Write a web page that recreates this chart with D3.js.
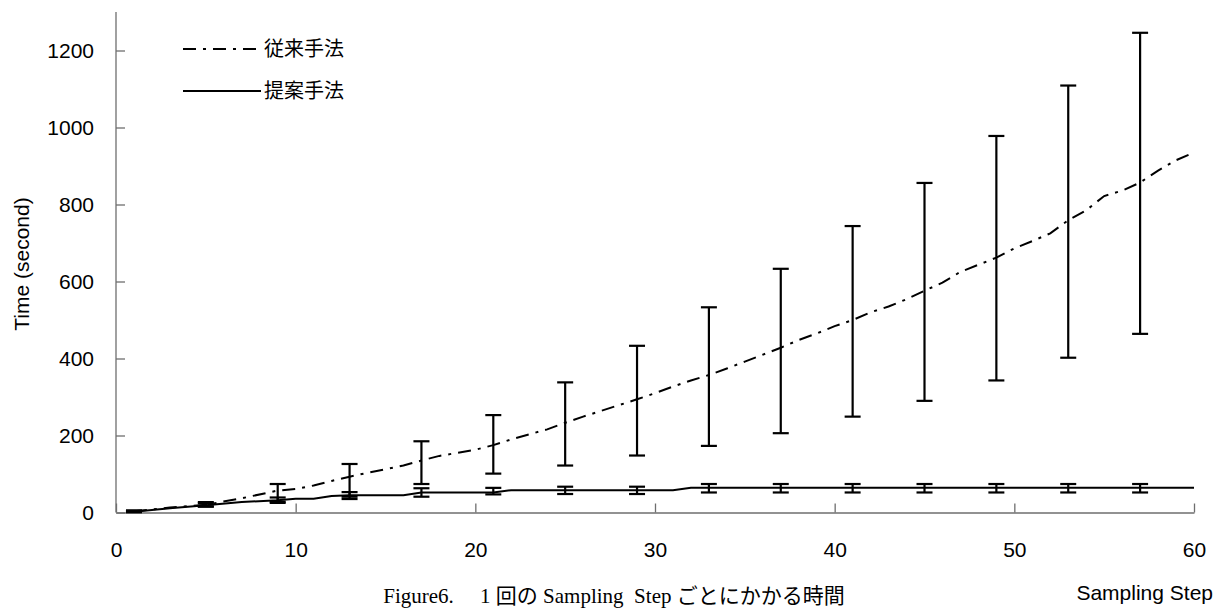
<!DOCTYPE html>
<html><head><meta charset="utf-8">
<script src="https://cdn.jsdelivr.net/npm/d3@7"></script>
<style>
html,body{margin:0;padding:0;background:#fff;}
svg{display:block;}
</style></head>
<body>
<script>
// ---- data ----
const seriesNames = ["従来手法", "提案手法"];
const convSteps  = [1, 3, 5, 7, 9, 10, 11, 12, 13, 14, 16, 17, 18, 19, 20, 21, 22, 23, 24, 25, 26, 27, 28, 29, 30, 31, 32, 33, 34, 35, 37, 38, 39, 40, 41, 42, 43, 44, 45, 46, 47, 49, 50, 51, 52, 53, 54, 55, 56, 57, 58, 59, 60];
const convValues = [3, 13, 20, 37, 57, 61, 70, 82, 93, 103, 122, 135, 147, 155, 163, 175, 190, 203, 216, 233, 249, 264, 279, 294, 310, 327, 343, 357, 374, 392, 428, 448, 465, 484, 500, 520, 535, 554, 576, 597, 625, 662, 686, 705, 725, 759, 785, 822, 836, 857, 888, 915, 935];
const propSteps  = [1, 3, 5, 7, 9, 10, 11, 12, 13, 16, 17, 21, 22, 31, 32, 60];
const propValues = [2, 11, 19, 27, 32, 36, 36, 43, 45, 45, 52, 52, 58, 58, 64, 64];
const errSteps   = [1, 5, 9, 13, 17, 21, 25, 29, 33, 37, 41, 45, 49, 53, 57];
const convLow    = [1, 16, 28, 41, 74, 101, 122, 148, 173, 206, 249, 290, 343, 402, 464];
const convHigh   = [5, 27, 74, 126, 185, 253, 338, 433, 533, 633, 744, 856, 978, 1109, 1246];
const propLow    = [1, 15, 25, 35, 41, 47, 48, 48, 52, 52, 52, 52, 52, 52, 52];
const propHigh   = [5, 24, 39, 53, 63, 64, 67, 67, 74, 74, 74, 74, 74, 74, 74];
const xTicks = [0, 10, 20, 30, 40, 50, 60];
const yTicks = [0, 200, 400, 600, 800, 1000, 1200];
const xLabel = "Sampling Step";
const yLabel = "Time (second)";
const caption = "Figure6.\u3000 1 回の Sampling  Step ごとにかかる時間";

// ---- layout ----
const W = 1217, H = 614;
const svg = d3.select("body").append("svg").attr("width", W).attr("height", H);
const x = d3.scaleLinear().domain([0, 60]).range([116, 1194]);
const y = d3.scaleLinear().domain([0, 1200]).range([512.5, 50.5]);
const axisColor = "#6e6e6e";
const numFont = "'Liberation Sans', Arial, sans-serif";
const jpFont = "'Noto Sans CJK JP', sans-serif";

// axes
const gx = svg.append("g").attr("transform", `translate(0,${y(0)})`)
  .call(d3.axisBottom(x).tickValues(xTicks).tickFormat(d3.format("d")).tickSizeInner(-9).tickSizeOuter(0).tickPadding(30));
const gy = svg.append("g").attr("transform", `translate(${x(0)},0)`)
  .call(d3.axisLeft(y).tickValues(yTicks).tickFormat(d3.format("d")).tickSizeInner(-9).tickSizeOuter(0).tickPadding(22));
[gx, gy].forEach(g => {
  g.select(".domain").attr("stroke", axisColor).attr("stroke-width", 1.3);
  g.selectAll(".tick line").attr("stroke", axisColor).attr("stroke-width", 1.3);
  g.selectAll(".tick text").attr("font-family", numFont).attr("font-size", 21).attr("fill", "#000");
});
gy.select(".domain").attr("d", `M0,${y(0)}V12`);

// axis titles
svg.append("text").attr("transform", `translate(29,264) rotate(-90)`)
  .attr("text-anchor", "middle").attr("font-family", numFont).attr("font-size", 21).text(yLabel);
svg.append("text").attr("x", 1213).attr("y", 600).attr("text-anchor", "end")
  .attr("font-family", numFont).attr("font-size", 21).text(xLabel);
svg.append("text").attr("x", 614).attr("y", 603).attr("text-anchor", "middle")
  .attr("font-family", "'Liberation Serif', 'Times New Roman', 'Noto Sans CJK JP', serif")
  .attr("font-size", 21).attr("xml:space", "preserve").style("white-space", "pre").text(caption);

// lines
const line = d3.line().x(d => x(d[0])).y(d => y(d[1]));
const dashPattern = "13,7,3,7";
svg.append("path").datum(convSteps.map((s, i) => [s, convValues[i]]))
  .attr("d", line).attr("fill", "none").attr("stroke", "#000").attr("stroke-width", 2)
  .attr("stroke-dasharray", dashPattern);
svg.append("path").datum(propSteps.map((s, i) => [s, propValues[i]]))
  .attr("d", line).attr("fill", "none").attr("stroke", "#000").attr("stroke-width", 2);

// error bars
function errorBars(lo, hi) {
  const g = svg.append("g").attr("stroke", "#000").attr("stroke-width", 2.2);
  errSteps.forEach((s, i) => {
    const cx = x(s);
    g.append("line").attr("x1", cx).attr("x2", cx).attr("y1", y(lo[i])).attr("y2", y(hi[i]));
    g.append("line").attr("x1", cx - 8).attr("x2", cx + 8).attr("y1", y(lo[i])).attr("y2", y(lo[i]));
    g.append("line").attr("x1", cx - 8).attr("x2", cx + 8).attr("y1", y(hi[i])).attr("y2", y(hi[i]));
  });
}
errorBars(convLow, convHigh);
errorBars(propLow, propHigh);

// legend
const legend = svg.append("g");
[[49, dashPattern], [91, null]].forEach(([ly, dash], i) => {
  const l = legend.append("line").attr("x1", 183).attr("x2", 261).attr("y1", ly).attr("y2", ly)
    .attr("stroke", "#000").attr("stroke-width", 2);
  if (dash) l.attr("stroke-dasharray", dash);
  legend.append("text").attr("x", 264).attr("y", ly).attr("dy", "0.36em")
    .attr("font-family", jpFont).attr("font-size", 20).text(seriesNames[i]);
});
</script>
</body></html>
